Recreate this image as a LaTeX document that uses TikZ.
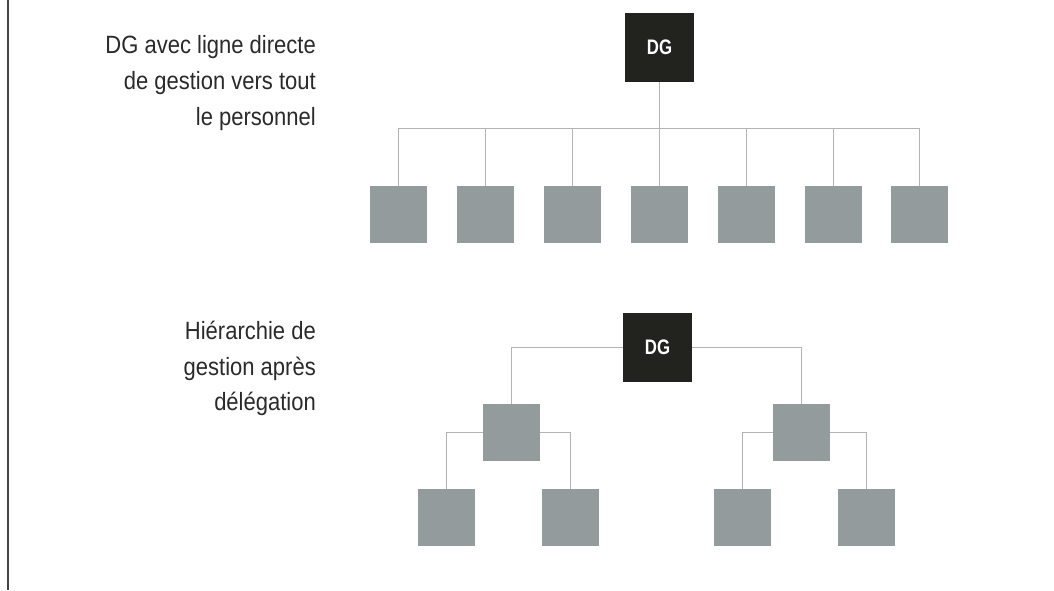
\documentclass[tikz,border=0pt]{standalone}
\usepackage{fontspec}
\setmainfont[FakeStretch=0.88]{Liberation Sans}
\newfontfamily\dgfont[FakeStretch=0.8]{Liberation Sans Bold}
\definecolor{boxgray}{HTML}{949B9C}
\definecolor{dgblack}{HTML}{22231F}
\definecolor{linegray}{HTML}{B0B5B4}
\definecolor{txtgray}{HTML}{2A2A2A}
\definecolor{rulegray}{HTML}{444444}
\tikzset{
  unit/.style={fill=boxgray, minimum size=57pt, inner sep=0pt, draw=none},
  dgbox/.style={fill=dgblack, minimum size=69pt, inner sep=0pt, text=white, font=\dgfont\fontsize{21}{21}\selectfont},
  link/.style={draw=linegray, line width=1.8pt},
  label/.style={anchor=base east, inner sep=0pt, text=txtgray, font=\fontsize{25}{30}\selectfont}
}
\begin{document}
\begin{tikzpicture}[x=1pt,y=-1pt]
\useasboundingbox (0,0) rectangle (1054,590);
\draw[rulegray, line width=1.8pt] (7.8,0) -- (7.8,590);

% labels
\node[label] (t1) at (316,53) {DG avec ligne directe};
\node[label] (t2) at (316,89) {de gestion vers tout};
\node[label] (t3) at (316,125) {le personnel};
\node[label] (u1) at (316,339) {Hiérarchie de};
\node[label] (u2) at (316,375) {gestion après};
\node[label] (u3) at (316,410) {délégation};

% top chart
\coordinate (bus) at (659.5,128.5);
\foreach \i/\x in {1/398.5,2/485.5,3/572.5,4/659.5,5/746.5,6/833.5,7/919.5}{
  \node[unit] (a\i) at (\x,214.5) {};
}
\draw[link] (659.5,47.5) -- (bus);
\foreach \i in {1,...,7}{
  \draw[link] (a\i.north) |- (bus);
}
\node[dgbox] (dg1) at (659.5,47.5) {DG};

% bottom chart
\node[dgbox] (dg2) at (657.5,347.5) {DG};
\node[unit] (m1) at (511.5,432.5) {};
\node[unit] (m2) at (801.5,432.5) {};
\node[unit] (l1) at (446.5,517.5) {};
\node[unit] (l2) at (570.5,517.5) {};
\node[unit] (l3) at (742.5,517.5) {};
\node[unit] (l4) at (866.5,517.5) {};
\draw[link] (dg2.west) -| (m1.north);
\draw[link] (dg2.east) -| (m2.north);
\draw[link] (m1.west) -| (l1.north);
\draw[link] (m1.east) -| (l2.north);
\draw[link] (m2.west) -| (l3.north);
\draw[link] (m2.east) -| (l4.north);
\end{tikzpicture}
\end{document}
